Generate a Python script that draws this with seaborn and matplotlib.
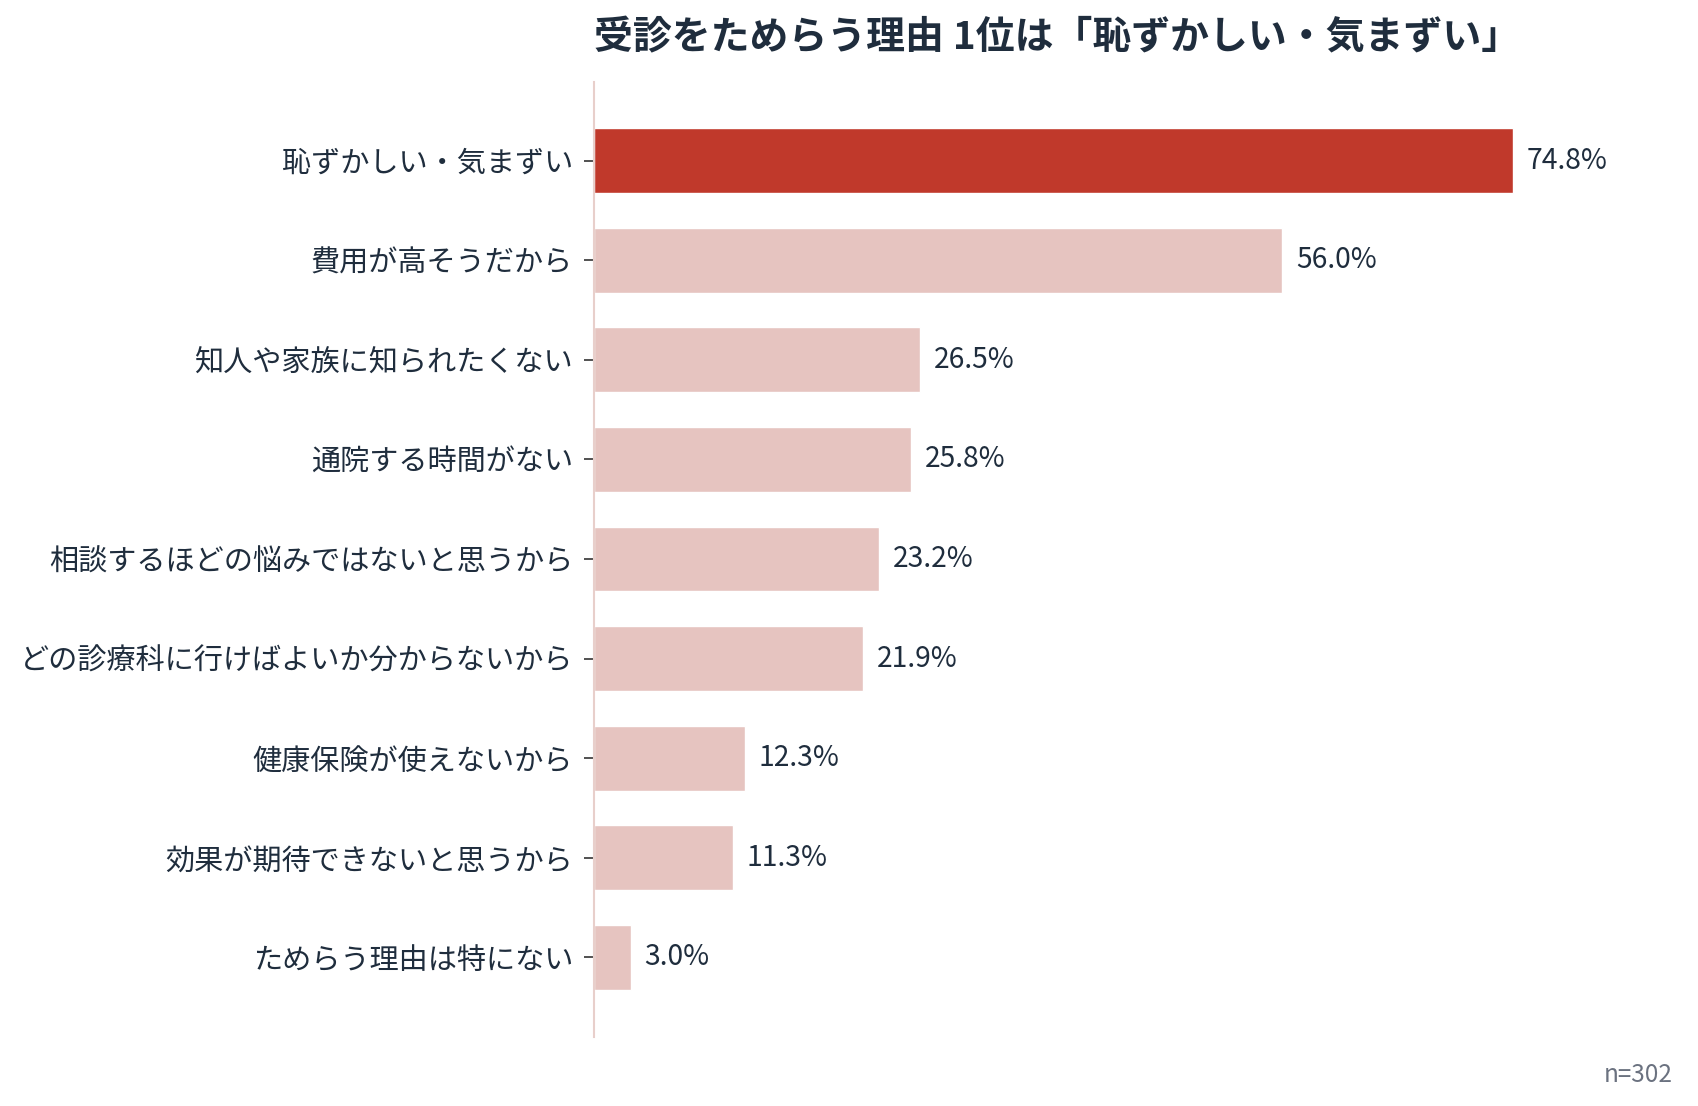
import matplotlib
matplotlib.use("Agg")
import matplotlib.pyplot as plt
import seaborn as sns
import pandas as pd

# data
reasons = ["恥ずかしい・気まずい", "費用が高そうだから", "知人や家族に知られたくない",
           "通院する時間がない", "相談するほどの悩みではないと思うから",
           "どの診療科に行けばよいか分からないから", "健康保険が使えないから",
           "効果が期待できないと思うから", "ためらう理由は特にない"]
pct = [74.8, 56.0, 26.5, 25.8, 23.2, 21.9, 12.3, 11.3, 3.0]
title = "受診をためらう理由 1位は「恥ずかしい・気まずい」"
note = "n=302"

top_color = "#c0392b"
rest_color = "#e6c4c0"
text_color = "#1f2d3d"

sns.set_style("white")
plt.rcParams['font.family'] = ['Noto Sans CJK JP', 'DejaVu Sans']

df = pd.DataFrame({"reason": reasons, "pct": pct})
colors = [top_color] + [rest_color] * (len(reasons) - 1)

fig = plt.figure(figsize=(16.99, 11.06), dpi=100)
left = 0.3495
ax = fig.add_axes([left, 1 - 1037 / 1106, 0.976 - left, (1037 - 82) / 1106])

sns.barplot(data=df, y="reason", x="pct", hue="reason", palette=colors,
            legend=False, width=0.65, saturation=1, ax=ax)

for i, v in enumerate(pct):
    ax.annotate(f"{v:.1f}%", (v, i), xytext=(10, 0), textcoords="offset points",
                va="center", ha="left", fontsize=20.3, color=text_color)

ax.set_xlim(0, 86.6)
ax.set_ylim(8.8, -0.79)
ax.set_xlabel("")
ax.set_ylabel("")
ax.set_xticks([])
ax.tick_params(axis="y", length=7, width=1.2, color="#333333", pad=8,
               labelsize=21, labelcolor=text_color, left=True)
for s in ["top", "right", "bottom"]:
    ax.spines[s].set_visible(False)
ax.spines["left"].set_color("#e8cfcb")
ax.spines["left"].set_linewidth(1.5)

fig.text(left, 1 - 38 / 1106, title, fontsize=28, fontweight="bold",
         color=text_color, ha="left", va="center")
fig.text(1673 / 1699, 1 - 1082 / 1106, note, fontsize=17.5, color="#6b7280",
         ha="right", va="baseline")

fig.savefig("out.png", dpi=100)
